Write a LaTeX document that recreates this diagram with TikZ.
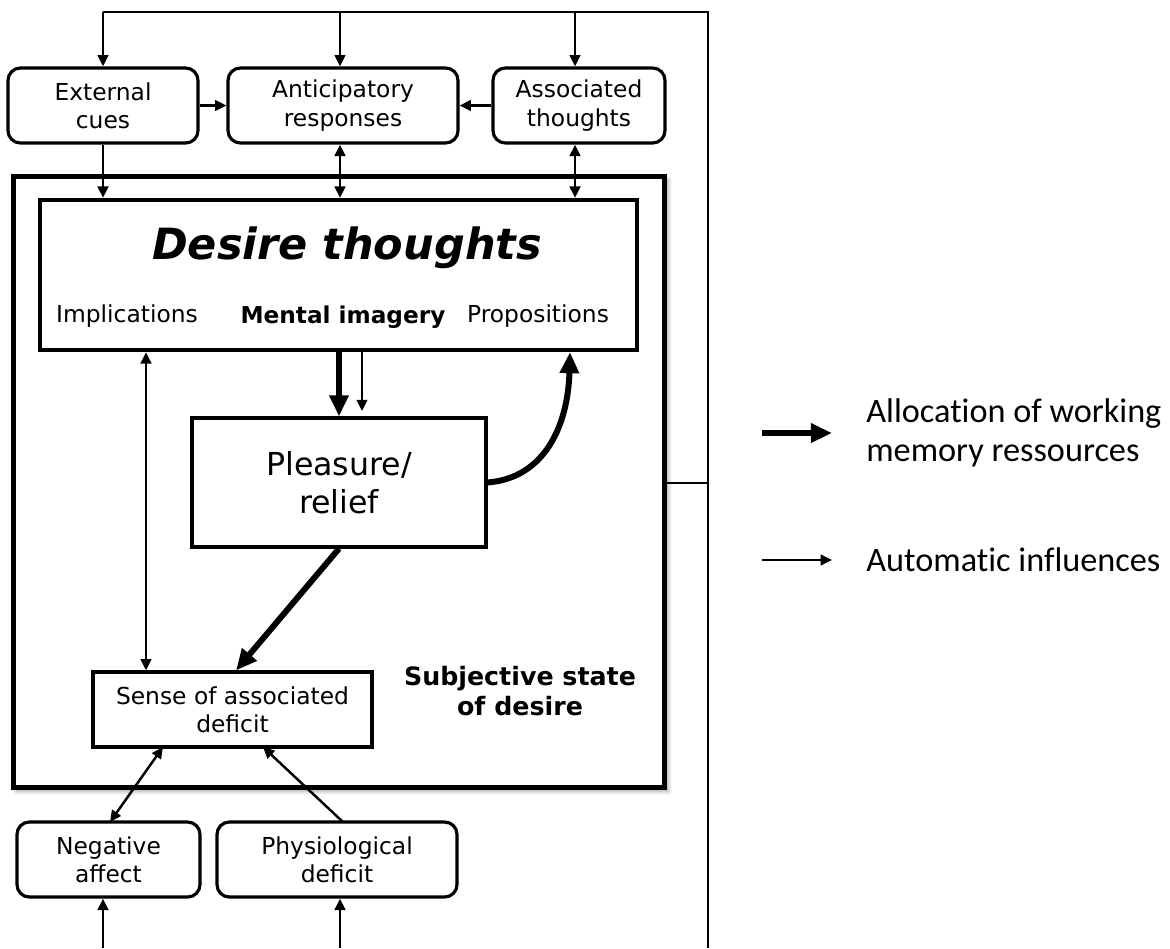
\documentclass[tikz,border=0pt]{standalone}
\usepackage{fontspec}
\setmainfont{DejaVu Sans}
\newfontfamily\legendfont{Carlito}[Ligatures=NoCommon]
\usetikzlibrary{arrows.meta,shadows.blur}

\begin{document}
\begin{tikzpicture}[x=0.02cm,y=-0.02cm,
  autoarrow/.style={line width=1.4pt,-{Triangle[length=6.5pt,width=6pt]}},
  autoboth/.style={line width=1.4pt,{Triangle[length=6.5pt,width=6pt]}-{Triangle[length=6.5pt,width=6pt]}},
  wmarrow/.style={line width=3.4pt,-{Triangle[length=12pt,width=10.5pt]}},
  plainline/.style={line width=1.5pt},
  roundbox/.style={draw,line width=1.8pt,rounded corners=7pt,fill=white,align=center,
    inner sep=0pt,font=\fontsize{13.3}{16}\selectfont},
  sqbox/.style={draw,line width=1.8pt,fill=white,align=center,inner sep=0pt},
  smalltext/.style={inner sep=0pt,font=\fontsize{13.3}{16}\selectfont},
  legendtext/.style={inner sep=0pt,anchor=west,align=left,font=\legendfont\fontsize{19.5}{22}\selectfont},
]
\useasboundingbox (0,0) rectangle (1170,948);

% outer frame: subjective state of desire
\node[draw,line width=2.8pt,fill=white,minimum width=13.04cm,minimum height=12.24cm,
  blur shadow={shadow xshift=2pt,shadow yshift=-2pt,shadow blur steps=6,shadow opacity=35}]
  (outer) at (339,482) {};

% top row
\node[roundbox,minimum width=3.8cm,minimum height=1.5cm] (ext) at (103,105.5) {External\\cues};
\node[roundbox,minimum width=4.6cm,minimum height=1.5cm] (ant) at (343,105.5) {Anticipatory\\responses};
\node[roundbox,minimum width=3.44cm,minimum height=1.5cm] (asc) at (579,105.5) {Associated\\thoughts};

% desire thoughts
\node[sqbox,line width=2.4pt,minimum width=11.94cm,minimum height=3.0cm] (des) at (338.5,275) {};
\node[inner sep=0pt,font=\fontsize{24.5}{28}\selectfont\bfseries\itshape] (destitle) at (347,248) {Desire thoughts};
\node[smalltext] (impl) at (127,316) {Implications};
\node[smalltext,font=\fontsize{13.2}{16}\selectfont\bfseries] (ment) at (343,317) {Mental imagery};
\node[smalltext] (prop) at (538,316) {Propositions};

% pleasure / relief
\node[sqbox,minimum width=5.88cm,minimum height=2.58cm,font=\fontsize{18}{21.5}\selectfont] (ple) at (339,482.5) {Pleasure/\\relief};

% sense of associated deficit
\node[sqbox,minimum width=5.58cm,minimum height=1.5cm,font=\fontsize{13.3}{16}\selectfont] (sen) at (232.5,709.5) {Sense of associated\\deficit};

\node[inner sep=0pt,align=center,font=\fontsize{14.4}{17}\selectfont\bfseries] (subj) at (520,691) {Subjective state\\of desire};

% bottom row
\node[roundbox,minimum width=3.66cm,minimum height=1.5cm] (neg) at (108.5,859.5) {Negative\\affect};
\node[roundbox,minimum width=4.8cm,minimum height=1.5cm] (phy) at (337,859.5) {Physiological\\deficit};

% feedback loop coordinates
\coordinate (t1) at (103,12);
\coordinate (t2) at (340,12);
\coordinate (t3) at (575,12);
\coordinate (tr) at (708,12);
\coordinate (br) at (708,948);
\coordinate (mr) at (708,483);
\coordinate (b1) at (103,948);
\coordinate (b2) at (340,948);

\draw[plainline] (t1) -- (tr) -- (br);
\draw[plainline] (outer.east |- mr) -- (mr);
\draw[autoarrow] (t1) -- (t1 |- ext.north);
\draw[autoarrow] (t2) -- (t2 |- ant.north);
\draw[autoarrow] (t3) -- (t3 |- asc.north);

% top row links
\draw[autoarrow] (ext.east) -- (ant.west);
\draw[autoarrow] (asc.west) -- (ant.west -| ant.east);
\draw[autoarrow] (ext.south -| t1) -- (des.north -| t1);
\draw[autoboth] (ant.south -| t2) -- (des.north -| t2);
\draw[autoboth] (asc.south -| t3) -- (des.north -| t3);

% inside the frame
\coordinate (thinx) at (362,0);
\coordinate (leftx) at (146,0);
\coordinate (propx) at (570,0);
\draw[wmarrow] (des.south -| ple.north) -- (ple.north);
\draw[autoarrow] (des.south -| thinx) -- ([yshift=3pt]ple.north -| thinx);
\draw[wmarrow] (ple.east) .. controls (545,478) and (568,425) .. (des.south -| propx);
\draw[autoboth] (des.south -| leftx) -- (sen.north -| leftx);
\draw[wmarrow] (ple.south) -- (sen.north -| 236,0);

% bottom links
\coordinate (negtop) at (110,822);
\coordinate (sena) at (163,747);
\coordinate (phytop) at (343,822);
\coordinate (senb) at (263,747);
\draw[autoboth] (negtop) -- (sena);
\draw[autoarrow] (phytop) -- (senb);
\draw[autoarrow] (b1) -- (b1 |- neg.south);
\draw[autoarrow] (b2) -- (b2 |- phy.south);

% legend
\coordinate (l1a) at (762,433);
\coordinate (l1b) at (832,433);
\coordinate (l2a) at (762,560);
\coordinate (l2b) at (832,560);
\draw[wmarrow] (l1a) -- (l1b);
\draw[autoarrow] (l2a) -- (l2b);
\node[legendtext] (leg1) at (866,433) {Allocation of working\\memory ressources};
\node[legendtext] (leg2) at (866,560) {Automatic influences};
\end{tikzpicture}
\end{document}
